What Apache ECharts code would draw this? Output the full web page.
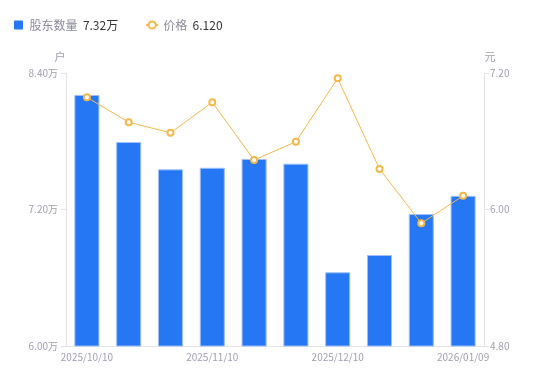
<!DOCTYPE html>
<html><head><meta charset="utf-8">
<script src="https://cdn.jsdelivr.net/npm/echarts@6/dist/echarts.min.js"></script>
<style>html,body{margin:0;padding:0;background:#fff}#c{width:550px;height:381px}</style>
</head><body><div id="c"></div>
<script>
var categories = ['2025/10/10','2025/10/20','2025/10/31','2025/11/10','2025/11/20','2025/11/28','2025/12/10','2025/12/19','2025/12/31','2026/01/09'];
var holders = [8.207, 7.793, 7.553, 7.567, 7.644, 7.603, 6.648, 6.800, 7.160, 7.320];
var prices = [6.986, 6.767, 6.675, 6.942, 6.435, 6.596, 7.153, 6.356, 5.879, 6.120];
var leftTicks = [6.00, 7.20, 8.40];
var rightTicks = [4.80, 6.00, 7.20];

var font = '"Noto Sans CJK SC", "Noto Sans", sans-serif';
var chart = echarts.init(document.getElementById('c'));
var lastH = holders[holders.length-1], lastP = prices[prices.length-1];
chart.setOption({
  animation: false,
  textStyle: {fontFamily: font},
  legend: {
    left: 9, top: 14, itemWidth: 12, itemHeight: 9, itemGap: 27,
    data: [{name:'股东数量', icon:'path://M1,0h8a1,1,0,0,1,1,1v8a1,1,0,0,1,-1,1h-8a1,1,0,0,1,-1,-1v-8a1,1,0,0,1,1,-1z', itemStyle:{borderWidth:0}}, {name:'价格'}],
    formatter: function(n){
      return n === '股东数量' ? '{a|股东数量}  {b|' + lastH.toFixed(2) + '万}' : '{a|价格}  {b|' + lastP.toFixed(3) + '}';
    },
    textStyle: {rich: {a:{color:'#8a8a99', fontSize:12, fontFamily:font}, b:{color:'#333', fontSize:12, fontFamily:font}}}
  },
  grid: {left: 66, right: 66, top: 73, bottom: 35},
  xAxis: {
    type: 'category', data: categories,
    axisLine: {lineStyle: {color: '#e3e3e8'}},
    axisTick: {show: false},
    axisLabel: {color: '#a0a0b0', fontSize: 10, interval: 2, margin: 6}
  },
  yAxis: [{
    type: 'value', min: 6.0, max: 8.4, interval: 1.2, name: '户',
    nameTextStyle: {color: '#a0a0b0', fontSize: 11, padding: [0, 12, 0, 0]}, nameGap: 11,
    axisLine: {show: true, lineStyle: {color: '#e3e3e8'}},
    axisTick: {show: true, length: 5, lineStyle: {color: '#e3e3e8'}},
    splitLine: {show: false},
    axisLabel: {color: '#a0a0b0', fontSize: 10, margin: 8, formatter: function(v){return v.toFixed(2)+'万';}}
  }, {
    type: 'value', min: 4.8, max: 7.2, interval: 1.2, name: '元',
    nameTextStyle: {color: '#a0a0b0', fontSize: 11, padding: [0, 0, 0, 12]}, nameGap: 11,
    axisLine: {show: true, lineStyle: {color: '#e3e3e8'}},
    axisTick: {show: true, length: 5, lineStyle: {color: '#e3e3e8'}},
    splitLine: {show: false},
    axisLabel: {color: '#a0a0b0', fontSize: 10, margin: 6, formatter: function(v){return v.toFixed(2);}}
  }],
  series: [{
    name: '股东数量', type: 'bar', data: holders, barWidth: '60%',
    itemStyle: {color: '#2677f4', borderColor: '#9ec0f8', borderWidth: 1}
  }, {
    name: '价格', type: 'line', yAxisIndex: 1, data: prices,
    symbol: 'emptyCircle', symbolSize: 6,
    lineStyle: {color: '#f7b84a', width: 1},
    itemStyle: {color: '#f7b84a', borderWidth: 2}
  }]
});
</script></body></html>
